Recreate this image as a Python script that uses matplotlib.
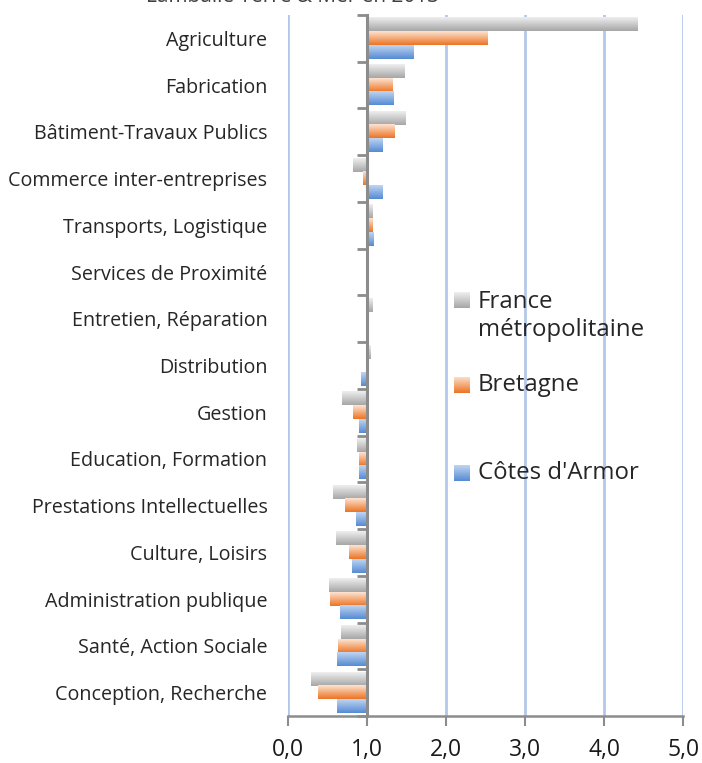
import numpy as np
import matplotlib
matplotlib.use("Agg")
import matplotlib.pyplot as plt
from matplotlib.colors import LinearSegmentedColormap

plt.rcParams['font.family'] = ['Open Sans', 'DejaVu Sans']

title = "Lamballe Terre & Mer en 2013"
categories = ["Agriculture", "Fabrication", "Bâtiment-Travaux Publics",
              "Commerce inter-entreprises", "Transports, Logistique",
              "Services de Proximité", "Entretien, Réparation", "Distribution",
              "Gestion", "Education, Formation", "Prestations Intellectuelles",
              "Culture, Loisirs", "Administration publique",
              "Santé, Action Sociale", "Conception, Recherche"]
series_names = ["France\nmétropolitaine", "Bretagne", "Côtes d'Armor"]
france = [4.42, 1.47, 1.49, 0.82, 1.07, 1.00, 1.07, 1.05, 0.68, 0.87, 0.57, 0.61, 0.51, 0.67, 0.29]
bretagne = [2.53, 1.32, 1.35, 0.95, 1.07, 1.00, 0.98, 1.00, 0.82, 0.89, 0.72, 0.77, 0.53, 0.63, 0.38]
cotes = [1.59, 1.33, 1.20, 1.19, 1.08, 1.00, 0.98, 0.92, 0.90, 0.89, 0.86, 0.80, 0.66, 0.62, 0.62]
xticks = [0, 1, 2, 3, 4, 5]
xticklabels = ["0,0", "1,0", "2,0", "3,0", "4,0", "5,0"]
base = 1.0

grads = [("#efefef", "#a6a6a6"), ("#fde4d2", "#ec7424"), ("#c0d5f1", "#558bd4")]

W, H = 702, 763
fig = plt.figure(figsize=(W / 100, H / 100), dpi=100)
ax = fig.add_axes([288.3 / W, 1 - 716 / H, (683.3 - 288.3) / W, (716 - 15) / H])

y = np.arange(len(categories))
bh = 0.285
offsets = [-0.292, 0.0, 0.292]
grad = np.linspace(0, 1, 64).reshape(-1, 1)
for vals, off, (c0, c1), name in zip([france, bretagne, cotes], offsets, grads, series_names):
    cmap = LinearSegmentedColormap.from_list("g", [c0, c1])
    bars = ax.barh(y + off, np.array(vals) - base, left=base, height=bh,
                   color=c1, linewidth=0, zorder=2, label=name)
    for p in bars:
        bb = p.get_bbox()
        x0, x1 = min(bb.x0, bb.x1), max(bb.x0, bb.x1)
        y0, y1 = min(bb.y0, bb.y1), max(bb.y0, bb.y1)
        if x1 - x0 <= 0:
            continue
        ax.imshow(grad, cmap=cmap, extent=(x0, x1, y1, y0), origin='upper',
                  aspect='auto', zorder=3, interpolation='bilinear')

ax.set_xlim(0, 5)
ax.set_ylim(len(categories) - 0.5, -0.5)
ax.set_xticks(xticks)
ax.set_xticklabels(xticklabels, fontsize=16.5, color='#1a1a1a')
ax.set_yticks(y)
ax.set_yticklabels(categories, fontsize=14.2, color='#262626')
ax.tick_params(axis='y', length=0, pad=15)
ax.tick_params(axis='x', length=7, width=1.5, color='#8c8c8c', pad=9)
for s in ['top', 'right', 'left']:
    ax.spines[s].set_visible(False)
ax.spines['bottom'].set_color('#8c8c8c')
ax.spines['bottom'].set_linewidth(1.8)
ax.grid(axis='x', color='#b4c8ea', linewidth=2, zorder=0)
ax.set_axisbelow(True)

# value axis crossing at 1.0
ax2 = fig.add_axes(ax.get_position(), facecolor='none')
ax2.set_xlim(ax.get_xlim())
ax2.set_ylim(ax.get_ylim())
for s in ['top', 'right', 'bottom']:
    ax2.spines[s].set_visible(False)
ax2.spines['left'].set_position(('data', base))
ax2.spines['left'].set_color('#8c8c8c')
ax2.spines['left'].set_linewidth(2.2)
ax2.set_xticks([])
ax2.set_yticks(np.arange(len(categories) + 1) - 0.5)
ax2.set_yticklabels([])
ax2.tick_params(axis='y', length=7, width=2, color='#8c8c8c')

# legend
leg_y = [300, 385, 473]
text_y = [316, 385, 473]
for (c0, c1), name, ly, ty in zip(grads, series_names, leg_y, text_y):
    lax = fig.add_axes([454 / W, 1 - (ly + 8) / H, 16 / W, 16 / H])
    lax.imshow(grad, cmap=LinearSegmentedColormap.from_list("g", [c0, c1]),
               aspect='auto', interpolation='bilinear')
    lax.axis('off')
    fig.text(478 / W, 1 - ty / H, name, fontsize=17.3, va='center',
             ha='left', color='#262626', linespacing=1.2)

fig.text(293 / W, 1 - 1.5 / H, title, ha='center', va='baseline', fontsize=15, color='#404040')

fig.savefig("out.png", dpi=100)
